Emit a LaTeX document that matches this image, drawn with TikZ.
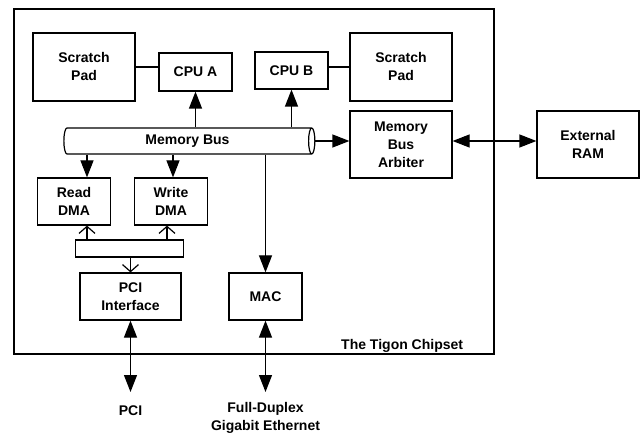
\documentclass[tikz,border=0pt]{standalone}
\usepackage{fontspec}
\setmainfont{Liberation Sans}
\usetikzlibrary{arrows.meta,shapes.geometric}

\begin{document}
\begin{tikzpicture}[x=1pt,y=-1pt,
    font=\fontsize{14}{18}\selectfont\bfseries,line width=1.2pt,
    block/.style={draw,align=center,inner sep=0pt},
    bus/.style={draw,cylinder,shape aspect=0.5,fill=white,inner sep=0pt},
    arr/.style={-{Triangle[length=17pt,width=13pt]}},
    darr/.style={{Triangle[length=17pt,width=13pt]}-{Triangle[length=17pt,width=13pt]}},
    open/.style={-{Straight Barb[length=7pt,width=16pt]}}]
    \useasboundingbox (0,0) rectangle (642,435);
    % chip outline
    \node[draw,minimum width=480pt,minimum height=345pt] (chip) at (254,181.5) {};
    \node[anchor=base east] (tigon) at (467,349) {The Tigon Chipset};

    \node[block,minimum width=102pt,minimum height=68pt] (spa) at (84,67) {Scratch\\Pad};
    \node[block,minimum width=73pt,minimum height=38pt] (cpua) at (195.5,72) {CPU A};
    \node[block,minimum width=73pt,minimum height=37pt] (cpub) at (291.5,70.5) {CPU B};
    \node[block,minimum width=102pt,minimum height=68pt] (spb) at (401,67) {Scratch\\Pad};
    \node[block,minimum width=102pt,minimum height=67pt] (arb) at (401,144.5) {Memory\\Bus\\Arbiter};
    \node[block,minimum width=102pt,minimum height=67pt] (ram) at (588,144.5) {External\\RAM};
    \node[bus,minimum height=251pt,minimum width=26pt] (bus) at (187.5,141) {Memory Bus};
    \node[block,minimum width=73pt,minimum height=47pt] (rdma) at (74,201.5) {Read\\DMA};
    \node[block,minimum width=73pt,minimum height=47pt] (wdma) at (171,201.5) {Write\\DMA};
    \node[bus,minimum height=108pt,minimum width=17pt] (sbus) at (129,248.5) {};
    \node[block,minimum width=101pt,minimum height=47pt] (pci) at (130.5,296.5) {PCI\\Interface};
    \node[block,minimum width=73pt,minimum height=47pt] (mac) at (265.5,296.5) {MAC};
    \node (pcil) at (130.5,411) {PCI};
    \node[align=center] (gbe) at (265.5,418) {Full-Duplex\\Gigabit Ethernet};
    \coordinate (pciend) at (130.5,392);
    \coordinate (macend) at (265.5,392);

    % memory bus side
    \draw (spa.east) -- (cpua.west |- spa.east);
    \draw (cpub.east |- spb.west) -- (spb.west);
    \draw[arr] (cpua.south |- bus.north) -- (cpua.south);
    \draw[arr] (cpub.south |- bus.north) -- (cpub.south);
    \draw[arr] (bus.east) -- (arb.west |- bus.east);
    \draw[darr] (arb.east |- bus.east) -- (ram.west |- bus.east);
    \draw[arr] ([xshift=13pt]rdma.north |- bus.south) -- ([xshift=13pt]rdma.north);
    \draw[arr] ([xshift=2pt]wdma.north |- bus.south) -- ([xshift=2pt]wdma.north);
    \draw[arr] (mac.north |- bus.south) -- (mac.north);

    % pci side
    \draw[open] ([xshift=13pt]rdma.south |- sbus.north) -- ([xshift=13pt]rdma.south);
    \draw[open] ([xshift=-4pt]wdma.south |- sbus.north) -- ([xshift=-4pt]wdma.south);
    \draw[open] (pci.north |- sbus.south) -- (pci.north);
    \draw[darr] (pci.south) -- (pciend);
    \draw[darr] (mac.south) -- (macend);
\end{tikzpicture}
\end{document}
